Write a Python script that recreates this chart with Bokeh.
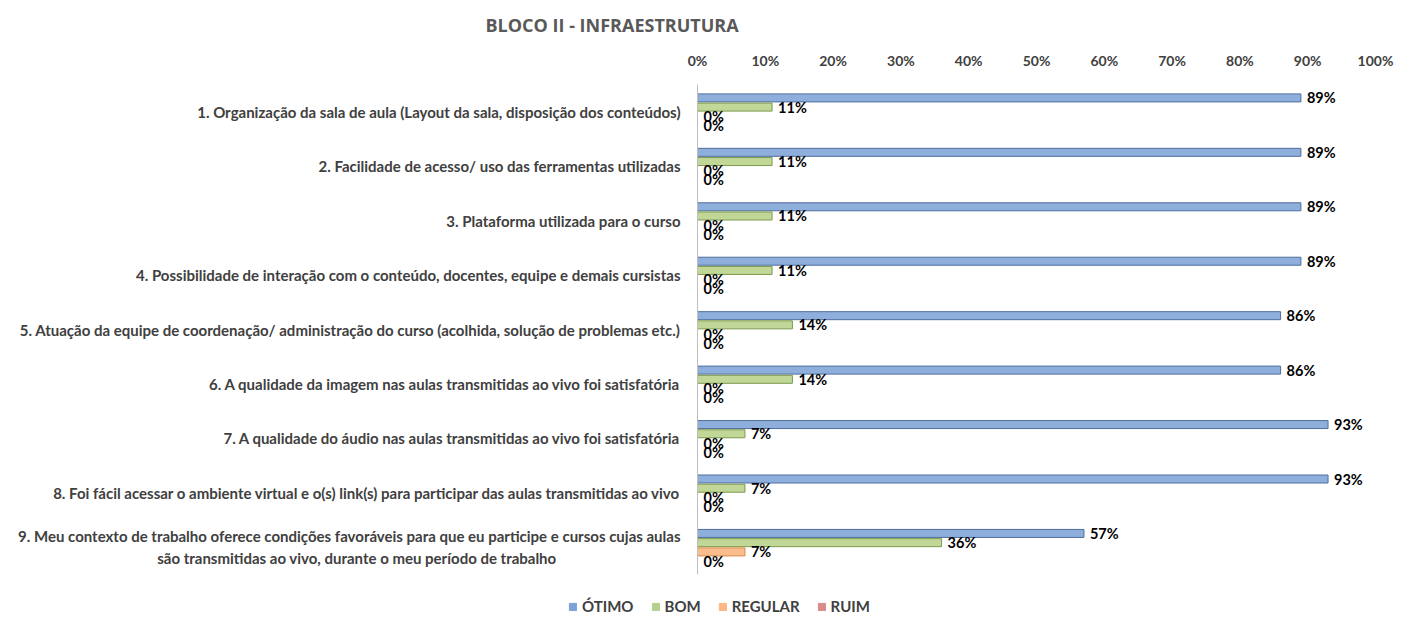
from bokeh.plotting import figure
from bokeh.layouts import column
from bokeh.models import (FactorRange, Range1d, ColumnDataSource, Legend, LegendItem,
                          FixedTicker, PrintfTickFormatter)
from bokeh.transform import dodge
from bokeh.core.properties import value
from bokeh.embed import file_html
from bokeh.resources import INLINE

NB = "\u00a0"
categories = [
    "1. Organização da sala de aula (Layout da sala, disposição dos conteúdos)",
    "2. Facilidade de acesso/ uso das ferramentas utilizadas",
    "3. Plataforma utilizada para o curso",
    "4. Possibilidade de interação com o conteúdo, docentes, equipe e demais cursistas",
    "5. Atuação da equipe de coordenação/ administração do curso (acolhida, solução de problemas etc.)",
    "6. A qualidade da imagem nas aulas transmitidas ao vivo foi satisfatória",
    "7. A qualidade do áudio nas aulas transmitidas ao vivo foi satisfatória",
    "8. Foi fácil acessar o ambiente virtual e o(s) link(s) para participar das aulas transmitidas ao vivo",
    "9. Meu contexto de trabalho oferece condições favoráveis para que eu participe e cursos cujas aulas\nsão transmitidas ao vivo, durante o meu período de trabalho" + NB * 34,
]
otimo = [89, 89, 89, 89, 86, 86, 93, 93, 57]
bom = [11, 11, 11, 11, 14, 14, 7, 7, 36]
regular = [0, 0, 0, 0, 0, 0, 0, 0, 7]
ruim = [0, 0, 0, 0, 0, 0, 0, 0, 0]
series_names = ["ÓTIMO", "BOM", "REGULAR", "RUIM"]
x_ticks = [0, 10, 20, 30, 40, 50, 60, 70, 80, 90, 100]

fills = ["#8EAEDB", "#C0D797", "#FBBD8C", "#D99694"]
lines = ["#4F6E9E", "#7E9A4C", "#D98A4A", "#A0504D"]
legend_fills = ["#7FA1D4", "#B6CF8E", "#FBB784", "#D98A8A"]
offsets = [0.254, 0.085, -0.085, -0.254]

FONT = "Lato"

p = figure(width=1405, height=580,
           y_range=FactorRange(factors=categories[::-1]),
           x_range=Range1d(0, 100),
           x_axis_location="above",
           output_backend="svg", toolbar_location=None,
           min_border_left=697, min_border_right=30,
           min_border_top=84, min_border_bottom=6)
p.frame_align = False

# legend strip below the chart
lg = figure(width=1405, height=41, x_range=Range1d(0, 1), y_range=Range1d(0, 1),
            output_backend="svg", toolbar_location=None,
            min_border_left=0, min_border_right=0, min_border_top=0, min_border_bottom=0)
lg.frame_align = False

items = []
for name, vals, fc, lc, lf, off in zip(series_names, [otimo, bom, regular, ruim],
                                       fills, lines, legend_fills, offsets):
    src = ColumnDataSource(dict(cat=categories, v=vals, lbl=[f"{v:.0f}%" for v in vals]))
    p.hbar(y=dodge("cat", off, range=p.y_range), left=0, right="v", height=0.147,
           fill_color=fc, line_color=lc, line_width=1, source=src)
    p.text(x="v", y=dodge("cat", off, range=p.y_range), text="lbl", x_offset=6,
           text_baseline="middle", text_align="left",
           text_font=value(FONT), text_font_style="bold", text_font_size="14.5px",
           text_color="#000000", source=src)
    # same series in the legend strip, kept outside its visible range
    r = lg.hbar(y=-10, left=0, right="v", height=0.1, fill_color=lf, line_color=lf, source=src)
    items.append(LegendItem(label=name, renderers=[r]))

p.xgrid.visible = False
p.ygrid.visible = False
p.outline_line_color = None

xa = p.xaxis[0]
xa.ticker = FixedTicker(ticks=x_ticks)
xa.formatter = PrintfTickFormatter(format="%d%%")
xa.axis_line_color = None
xa.major_tick_line_color = None
xa.minor_tick_line_color = None
xa.major_label_standoff = 10
xa.major_label_text_font = FONT
xa.major_label_text_font_style = "bold"
xa.major_label_text_font_size = "14px"
xa.major_label_text_color = "#404040"

ya = p.yaxis[0]
ya.axis_line_color = "#BFBFBF"
ya.major_tick_line_color = None
ya.major_tick_out = 0
ya.major_label_standoff = 17
ya.major_label_text_font = FONT
ya.major_label_text_font_style = "bold"
ya.major_label_text_font_size = "15px"
ya.major_label_text_color = "#404040"

p.title.text = "BLOCO II - INFRAESTRUTURA"
p.title.align = "left"
p.title.offset = -212
p.title.padding = dict(left=0, right=0, top=0, bottom=7)
p.title.text_font = "Open Sans"
p.title.text_font_style = "bold"
p.title.text_font_size = "18px"
p.title.text_color = "#595959"

lg.axis.visible = False
lg.xgrid.visible = False
lg.ygrid.visible = False
lg.outline_line_color = None
legend = Legend(items=items, orientation="horizontal", location=(568, 6),
                border_line_color=None, background_fill_alpha=0,
                glyph_width=9, glyph_height=9, label_standoff=5, spacing=17,
                padding=4, margin=0,
                label_text_font=FONT, label_text_font_style="bold",
                label_text_font_size="15px", label_text_color="#404040")
lg.add_layout(legend, "center")

layout = column(p, lg, spacing=0)
open("out.html", "w").write(file_html(layout, INLINE))
